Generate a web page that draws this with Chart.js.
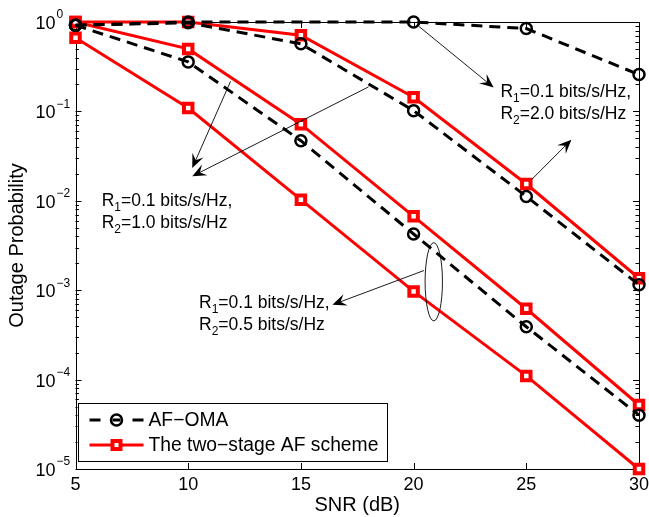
<!DOCTYPE html>
<html>
<head>
<meta charset="utf-8">
<title>Outage Probability</title>
<script src="https://cdn.jsdelivr.net/npm/chart.js@4.4.1/dist/chart.umd.min.js"></script>
<style>
    body { margin: 0; background: #fff; }
    canvas { display: block; }
</style>
</head>
<body>
<canvas id="outage" width="649" height="517"></canvas>
<script>
var snr = [5, 10, 15, 20, 25, 30];

// AF-OMA, black dashed with circles
var omaR2_20 = [0.92, 1.0, null, 1.0, 0.845, 0.258];
var omaR2_10 = [0.92, 0.98, 0.57, 0.102, 0.0112, 0.00115];
var omaR2_05 = [0.92, 0.358, 0.047, 0.00425, 0.00039, 0.00004];

// two-stage AF scheme, red solid with squares
var twoStageA = [1.0, 1.0, 0.71, 0.144, 0.0154, 0.00136];
var twoStageB = [1.0, 0.50, 0.072, 0.0067, 0.00062, 0.000052];
var twoStageC = [0.665, 0.109, 0.0103, 0.00097, 0.00011, 0.00001];

var xTicks = [5, 10, 15, 20, 25, 30];
var yExponents = [0, -1, -2, -3, -4, -5];

var legendNames = ['AF\u2212OMA', 'The two\u2212stage AF scheme'];

// annotations in data units: [x, y]
var notes = [
    { r2: '2.0', at: [23.85, 0.144], arrows: [[20.24, 0.891, 23.55, 0.185], [25.23, 0.0172, 27.0, 0.0483]] },
    { r2: '1.0', at: [6.16, 0.00865], arrows: [[11.88, 0.217, 10.18, 0.0233], [18.0, 0.188, 10.18, 0.0188]] },
    { r2: '0.5', at: [10.48, 0.00063], arrows: [[20.46, 0.00166, 16.40, 0.000687]] }
];
var ellipseX = [20.51, 21.28];
var ellipseY = [0.0034, 0.000454];

var FONT = '"Liberation Sans", Arial, sans-serif';
Chart.defaults.font.family = FONT;
Chart.defaults.color = '#000';

function toPoints(vals) {
    return snr.map(function (x, i) {
        return { x: x, y: vals[i] };
    });
}

function omaSet(vals) {
    return {
        label: legendNames[0],
        data: toPoints(vals),
        borderColor: '#000',
        borderWidth: 3,
        borderDash: [11, 7],
        pointStyle: 'circle',
        pointRadius: 5.5,
        pointBorderWidth: 2.5,
        pointBorderColor: '#000',
        pointBackgroundColor: 'rgba(0,0,0,0)',
        spanGaps: true,
        clip: false
    };
}

function twoStageSet(vals) {
    return {
        label: legendNames[1],
        data: toPoints(vals),
        borderColor: '#ff0000',
        borderWidth: 3,
        pointStyle: 'rect',
        pointRadius: 6,
        pointBorderWidth: 4,
        pointBorderColor: '#ff0000',
        pointBackgroundColor: '#fff',
        clip: false
    };
}

// MATLAB style box: inward ticks, minor log ticks, y tick labels with exponents
var boxPlugin = {
    id: 'box',
    beforeDatasetsDraw: function (chart) {
        var ctx = chart.ctx, a = chart.chartArea;
        var xs = chart.scales.x, ys = chart.scales.y;
        ctx.save();
        ctx.strokeStyle = '#000';
        ctx.lineWidth = 1;
        ctx.beginPath();
        xTicks.forEach(function (v) {
            var px = Math.round(xs.getPixelForValue(v)) + 0.5;
            ctx.moveTo(px, a.bottom); ctx.lineTo(px, a.bottom - 6);
            ctx.moveTo(px, a.top); ctx.lineTo(px, a.top + 6);
        });
        yExponents.forEach(function (e) {
            for (var m = 1; m < 10; m++) {
                if (e === 0 && m > 1) break;
                var py = Math.round(ys.getPixelForValue(m * Math.pow(10, e))) + 0.5;
                var len = m === 1 ? 6 : 3.5;
                ctx.moveTo(a.left, py); ctx.lineTo(a.left + len, py);
                ctx.moveTo(a.right, py); ctx.lineTo(a.right - len, py);
            }
        });
        ctx.stroke();
        ctx.strokeRect(Math.round(a.left) + 0.5, Math.round(a.top) + 0.5,
            Math.round(a.right) - Math.round(a.left), Math.round(a.bottom) - Math.round(a.top));

        ctx.fillStyle = '#000';
        yExponents.forEach(function (e) {
            var py = ys.getPixelForValue(Math.pow(10, e));
            var rx = a.left - 20;
            ctx.font = '18px ' + FONT;
            ctx.textAlign = 'right';
            ctx.textBaseline = 'middle';
            ctx.fillText('10', rx, py + 2);
            ctx.font = '12px ' + FONT;
            ctx.textAlign = 'left';
            ctx.fillText(e === 0 ? '0' : '\u2212' + (-e), rx + 1, py - 7);
        });
        ctx.restore();
    }
};

function drawArrow(ctx, x0, y0, x1, y1) {
    var ang = Math.atan2(y1 - y0, x1 - x0);
    ctx.beginPath();
    ctx.moveTo(x0, y0);
    ctx.lineTo(x1 - 6 * Math.cos(ang), y1 - 6 * Math.sin(ang));
    ctx.stroke();
    ctx.save();
    ctx.translate(x1, y1);
    ctx.rotate(ang);
    ctx.beginPath();
    ctx.moveTo(0, 0);
    ctx.lineTo(-14, -6);
    ctx.lineTo(-8.5, 0);
    ctx.lineTo(-14, 6);
    ctx.closePath();
    ctx.fill();
    ctx.restore();
}

function drawRate(ctx, x, y, sub, rest) {
    ctx.font = '17.5px ' + FONT;
    ctx.fillText('R', x, y);
    var w = ctx.measureText('R').width;
    ctx.font = '12px ' + FONT;
    ctx.fillText(sub, x + w, y + 5);
    var w2 = ctx.measureText(sub).width;
    ctx.font = '17.5px ' + FONT;
    ctx.fillText(rest, x + w + w2, y);
}

var notesPlugin = {
    id: 'notes',
    afterDatasetsDraw: function (chart) {
        var ctx = chart.ctx, xs = chart.scales.x, ys = chart.scales.y;
        ctx.save();
        ctx.strokeStyle = '#000';
        ctx.fillStyle = '#000';
        ctx.lineWidth = 0.9;
        ctx.textAlign = 'left';
        ctx.textBaseline = 'alphabetic';
        notes.forEach(function (n) {
            var tx = xs.getPixelForValue(n.at[0]), ty = ys.getPixelForValue(n.at[1]);
            drawRate(ctx, tx, ty, '1', '=0.1 bits/s/Hz,');
            drawRate(ctx, tx, ty + 22, '2', '=' + n.r2 + ' bits/s/Hz');
            n.arrows.forEach(function (ar) {
                drawArrow(ctx, xs.getPixelForValue(ar[0]), ys.getPixelForValue(ar[1]),
                    xs.getPixelForValue(ar[2]), ys.getPixelForValue(ar[3]));
            });
        });
        var ex0 = xs.getPixelForValue(ellipseX[0]), ex1 = xs.getPixelForValue(ellipseX[1]);
        var ey0 = ys.getPixelForValue(ellipseY[0]), ey1 = ys.getPixelForValue(ellipseY[1]);
        ctx.beginPath();
        ctx.ellipse((ex0 + ex1) / 2, (ey0 + ey1) / 2, (ex1 - ex0) / 2, (ey1 - ey0) / 2, 0, 0, Math.PI * 2);
        ctx.stroke();

        // legend box, bottom left inside the axes
        var a = chart.chartArea;
        var lx = a.left + 2, ly = a.bottom - 66, lw = 309, lh = 58;
        ctx.fillStyle = '#fff';
        ctx.fillRect(lx, ly, lw, lh);
        ctx.lineWidth = 1;
        ctx.strokeRect(Math.round(lx) + 0.5, Math.round(ly) + 0.5, lw, lh);

        var sx0 = lx + 12, sx1 = lx + 66, cx = (sx0 + sx1) / 2;
        var r1 = ly + 17, r2 = ly + 42;
        ctx.strokeStyle = '#000';
        ctx.lineWidth = 3;
        ctx.beginPath();
        ctx.moveTo(sx0, r1); ctx.lineTo(sx0 + 11, r1);
        ctx.moveTo(cx - 4, r1); ctx.lineTo(cx + 4, r1);
        ctx.moveTo(sx1 - 11, r1); ctx.lineTo(sx1, r1);
        ctx.stroke();
        ctx.lineWidth = 2.5;
        ctx.beginPath();
        ctx.arc(cx, r1, 5.5, 0, Math.PI * 2);
        ctx.stroke();

        ctx.strokeStyle = '#ff0000';
        ctx.lineWidth = 3;
        ctx.beginPath();
        ctx.moveTo(sx0, r2); ctx.lineTo(sx1, r2);
        ctx.stroke();
        ctx.fillStyle = '#fff';
        ctx.fillRect(cx - 4, r2 - 4, 8, 8);
        ctx.lineWidth = 4;
        ctx.strokeRect(cx - 4, r2 - 4, 8, 8);

        ctx.fillStyle = '#000';
        ctx.font = '19.3px ' + FONT;
        ctx.textBaseline = 'middle';
        ctx.fillText(legendNames[0], lx + 71, r1 + 1);
        ctx.fillText(legendNames[1], lx + 71, r2 + 1);
        ctx.restore();
    }
};

new Chart(document.getElementById('outage'), {
    type: 'line',
    data: {
        datasets: [
            omaSet(omaR2_20),
            omaSet(omaR2_10),
            omaSet(omaR2_05),
            twoStageSet(twoStageA),
            twoStageSet(twoStageB),
            twoStageSet(twoStageC)
        ]
    },
    options: {
        responsive: false,
        animation: false,
        layout: { padding: { top: 22, right: 8, left: 0, bottom: 0 } },
        plugins: {
            legend: { display: false },
            tooltip: { enabled: false }
        },
        scales: {
            x: {
                type: 'linear',
                min: 5,
                max: 30,
                grid: { display: false, drawTicks: false },
                border: { display: false },
                ticks: { stepSize: 5, font: { size: 18 }, color: '#000', padding: 5, maxRotation: 0, autoSkip: false },
                title: { display: true, text: 'SNR (dB)', font: { size: 20 }, color: '#000', padding: { top: 0, bottom: 0 } },
                afterFit: function (s) { s.height = 48; s.paddingLeft = 0; s.paddingRight = 0; }
            },
            y: {
                type: 'logarithmic',
                min: 1e-5,
                max: 1,
                grid: { display: false, drawTicks: false },
                border: { display: false },
                ticks: { display: false },
                title: { display: true, text: 'Outage Probability', font: { size: 20 }, color: '#000', padding: { top: 5, bottom: 0 } },
                afterFit: function (s) { s.width = 75.5; s.paddingTop = 0; s.paddingBottom = 0; }
            }
        }
    },
    plugins: [boxPlugin, notesPlugin]
});
</script>
</body>
</html>
